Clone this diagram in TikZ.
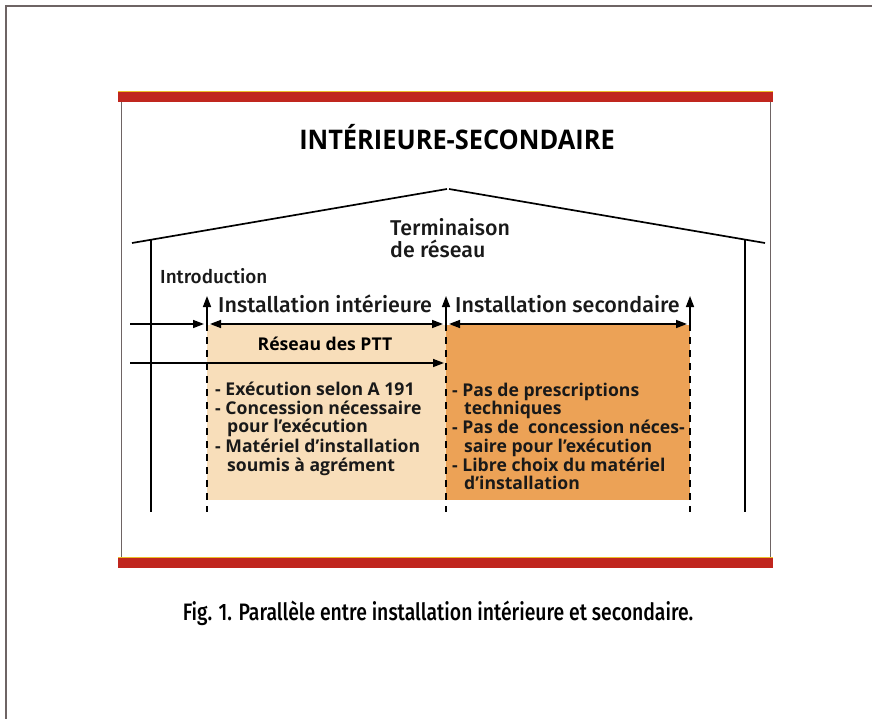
\documentclass[tikz,border=0pt]{standalone}
\usepackage{fontspec}
\setmainfont{Open Sans}
\newfontfamily\condfont[FakeStretch=0.815]{Fira Sans Medium}
\newfontfamily\medfont{Fira Sans Medium}
\newfontfamily\titlefont[FakeStretch=0.94]{Open Sans}
\usetikzlibrary{arrows.meta}
\definecolor{redbar}{RGB}{192,38,30}
\definecolor{baredge}{RGB}{236,190,40}
\definecolor{peach}{RGB}{248,222,186}
\definecolor{orangefill}{RGB}{236,162,86}
\definecolor{framegray}{RGB}{110,100,100}
\tikzset{
  txt/.style={inner sep=0pt, anchor=base west, text=black!90},
  medtxt/.style={txt, font=\medfont\fontsize{21.4}{24}\selectfont},
  listtxt/.style={txt, font=\fontsize{17.6}{19}\selectfont\bfseries},
  wall/.style={line width=1.7pt, black},
  arr/.style={line width=1.5pt, -{Triangle[length=11pt,width=8pt]}},
  darr/.style={line width=1.5pt, {Triangle[length=11pt,width=8pt]}-{Triangle[length=11pt,width=8pt]}},
  upar/.style={line width=1.5pt, -{Triangle[length=11pt,width=8pt]}},
  dsh/.style={line width=1.4pt, dash pattern=on 7pt off 6pt},
}
\begin{document}
\begin{tikzpicture}[x=1pt,y=-1pt]
\useasboundingbox (0,0) rectangle (872,719);
\fill[white] (0,0) rectangle (872,719);
% outer frame
\draw[framegray, line width=1.2pt] (6,719) -- (6,6) -- (872,6);
% box
\draw[framegray, line width=0.8pt] (121,102) -- (121,557);
\draw[framegray, line width=0.8pt] (770,102) -- (770,557);
\fill[redbar] (118,91) rectangle (773,102);
\draw[baredge, line width=0.8pt] (118,91) -- (773,91);
\fill[redbar] (118,557) rectangle (773,568);
\draw[baredge, line width=0.8pt] (118,557) -- (773,557);
% fills
\fill[peach] (207,325) rectangle (446,500);
\fill[orangefill] (446,325) rectangle (690,500);
% title
\node[inner sep=0pt, anchor=base, font=\titlefont\fontsize{27}{32}\selectfont\bfseries] (title) at (457,150) {INTÉRIEURE-SECONDAIRE};
% house
\coordinate (rl) at (132,243);
\coordinate (apl) at (447,189);
\coordinate (apr) at (449,189);
\coordinate (rr) at (765,243);
\draw[wall] (rl) -- (apl);
\draw[wall] (apr) -- (rr);
\coordinate (wlt) at (151,240);
\coordinate (wlb) at (151,512);
\coordinate (wrt) at (745,240);
\coordinate (wrb) at (745,512);
\draw[wall] (wlt) -- (wlb);
\draw[wall] (wrt) -- (wrb);
% labels
\node[medtxt] (term1) at (390,236) {Terminaison};
\node[medtxt] (term2) at (390,258) {de réseau};
\node[txt, font=\medfont\fontsize{18.9}{21}\selectfont] (intro) at (160,283) {Introduction};
\node[txt, font=\medfont\fontsize{21.5}{24}\selectfont] (instint) at (218,312) {Installation intérieure};
\node[txt, font=\medfont\fontsize{21.5}{24}\selectfont] (instsec) at (455,312) {Installation secondaire};
\node[inner sep=0pt, anchor=base, font=\fontsize{17.6}{19}\selectfont\bfseries] (ptt) at (325,350) {Réseau des PTT};
% ticks
\foreach \n/\x in {1/207, 2/446, 3/690}{
  \coordinate (t\n) at (\x,296);
  \coordinate (m\n) at (\x,324);
  \coordinate (b\n) at (\x,512);
  \draw[upar] (m\n) -- (t\n);
  \draw[dsh] (m\n) -- (b\n);
}
% horizontal arrows
\coordinate (in1) at (130,324);
\draw[arr] (in1) -- ([xshift=-3pt]m1);
\draw[darr] ([xshift=3pt]m1) -- ([xshift=-3pt]m2);
\draw[darr] ([xshift=3pt]m2) -- ([xshift=-3pt]m3);
\coordinate (in2) at (130,363);
\coordinate (e2) at (444,363);
\draw[arr] (in2) -- (e2);
% left list
\node[listtxt] (la) at (215,395) {- Exécution selon A 191};
\node[listtxt] (lb) at (215,414) {- Concession nécessaire};
\node[listtxt] (lc) at (227,432) {pour l'exécution};
\node[listtxt] (ld) at (215,452) {- Matériel d'installation};
\node[listtxt] (le) at (227,471) {soumis à agrément};
% right list
\node[listtxt] (ra) at (452,396) {- Pas de prescriptions};
\node[listtxt] (rb) at (464,414) {techniques};
\node[listtxt] (rc) at (452,433) {- Pas de\ \ concession néces-};
\node[listtxt] (rd) at (464,452) {saire pour l'exécution};
\node[listtxt] (re) at (452,471) {- Libre choix du matériel};
\node[listtxt] (rf) at (464,489) {d'installation};
% caption
\node[inner sep=0pt, anchor=base, font=\condfont\fontsize{23.8}{28}\selectfont] (cap) at (438,620) {Fig. 1. Parallèle entre installation intérieure et secondaire.};
\end{tikzpicture}
\end{document}
